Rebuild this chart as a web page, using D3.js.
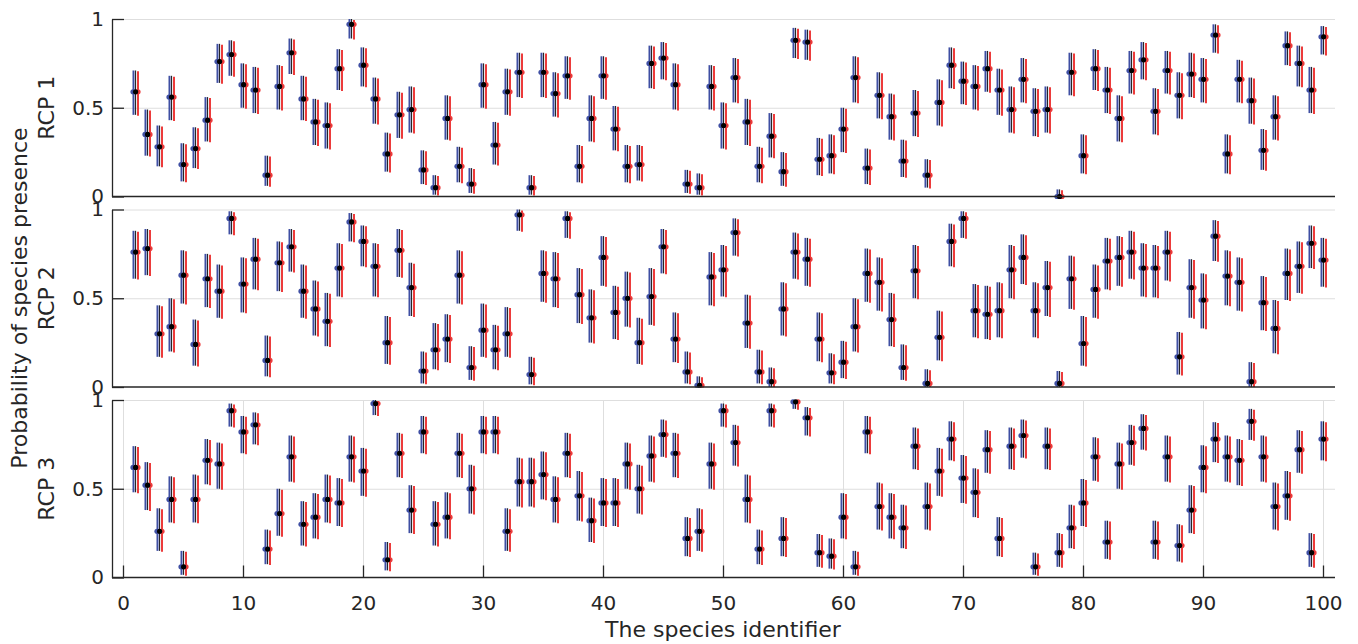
<!DOCTYPE html>
<html>
<head>
<meta charset="utf-8">
<title>Species presence per RCP</title>
<script src="https://d3js.org/d3.v7.min.js"></script>
<style>
  body { margin: 0; background: #fff; }
  svg text { font-family: "DejaVu Sans", sans-serif; fill: #262626; }
  .axis path, .axis line { stroke: #262626; }
  .grid line { stroke: #dedede; }
  .grid path { display: none; }
</style>
</head>
<body>
<svg id="chart" width="1358" height="644"></svg>
<script>
// species ids and panel names
var species = d3.range(1, 101);
var panelNames = ["RCP 1", "RCP 2", "RCP 3"];
var yTicks = [0, 0.5, 1];
var xTicks = [0, 10, 20, 30, 40, 50, 60, 70, 80, 90, 100];

// RCP 1: estimate, lower, upper
var rcp1 = [0.59,0.35,0.28,0.56,0.18,0.27,0.43,0.76,0.80,0.63,0.60,0.12,0.62,0.81,0.55,0.42,0.40,0.72,0.97,0.74,
  0.55,0.24,0.46,0.49,0.15,0.05,0.44,0.17,0.07,0.63,0.29,0.59,0.70,0.05,0.70,0.58,0.68,0.17,0.44,0.68,
  0.38,0.17,0.18,0.75,0.78,0.63,0.07,0.05,0.62,0.40,0.67,0.42,0.17,0.34,0.14,0.88,0.87,0.21,0.23,0.38,
  0.67,0.16,0.57,0.45,0.20,0.47,0.12,0.53,0.74,0.65,0.62,0.72,0.60,0.49,0.66,0.48,0.49,0.00,0.70,0.23,
  0.72,0.60,0.44,0.71,0.77,0.48,0.71,0.57,0.69,0.66,0.91,0.24,0.66,0.54,0.26,0.45,0.85,0.75,0.60,0.90];
var rcp1Lo = [0.46,0.23,0.17,0.43,0.085,0.16,0.31,0.64,0.68,0.50,0.47,0.06,0.49,0.69,0.43,0.29,0.27,0.60,0.89,0.62,
  0.41,0.14,0.33,0.36,0.07,0.01,0.32,0.08,0.02,0.50,0.18,0.46,0.56,0.01,0.56,0.45,0.55,0.08,0.31,0.55,
  0.26,0.08,0.09,0.61,0.66,0.49,0.02,0.01,0.49,0.27,0.53,0.29,0.08,0.22,0.06,0.78,0.77,0.12,0.13,0.25,
  0.53,0.07,0.44,0.32,0.11,0.34,0.05,0.40,0.61,0.52,0.49,0.59,0.46,0.36,0.53,0.34,0.36,0.00,0.57,0.13,
  0.60,0.47,0.31,0.58,0.66,0.35,0.58,0.44,0.56,0.53,0.81,0.13,0.53,0.41,0.15,0.32,0.74,0.62,0.47,0.80];
var rcp1Hi = [0.71,0.49,0.40,0.68,0.30,0.39,0.56,0.86,0.88,0.75,0.73,0.23,0.74,0.89,0.68,0.55,0.53,0.83,1.00,0.84,
  0.67,0.36,0.59,0.62,0.26,0.12,0.57,0.28,0.16,0.75,0.42,0.72,0.81,0.12,0.81,0.70,0.79,0.29,0.57,0.79,
  0.51,0.29,0.29,0.85,0.87,0.75,0.15,0.13,0.74,0.53,0.78,0.55,0.28,0.47,0.25,0.95,0.94,0.33,0.35,0.50,
  0.79,0.27,0.70,0.58,0.32,0.60,0.21,0.66,0.84,0.76,0.74,0.82,0.72,0.62,0.78,0.61,0.62,0.04,0.81,0.35,
  0.83,0.73,0.57,0.82,0.87,0.61,0.82,0.70,0.81,0.78,0.97,0.35,0.77,0.67,0.38,0.57,0.93,0.85,0.73,0.96];

// RCP 2
var rcp2 = [0.76,0.78,0.30,0.34,0.63,0.24,0.61,0.54,0.95,0.58,0.72,0.15,0.70,0.79,0.54,0.44,0.37,0.67,0.93,0.82,
  0.68,0.25,0.77,0.56,0.09,0.21,0.27,0.63,0.11,0.32,0.21,0.30,0.97,0.07,0.64,0.61,0.95,0.52,0.39,0.73,
  0.42,0.50,0.25,0.51,0.79,0.27,0.085,0.01,0.62,0.66,0.87,0.36,0.085,0.03,0.44,0.76,0.72,0.27,0.08,0.14,
  0.34,0.64,0.59,0.38,0.11,0.655,0.02,0.28,0.82,0.95,0.43,0.41,0.43,0.66,0.73,0.43,0.56,0.02,0.61,0.245,
  0.55,0.71,0.73,0.76,0.67,0.67,0.76,0.17,0.56,0.49,0.85,0.625,0.59,0.03,0.475,0.33,0.64,0.68,0.81,0.715];
var rcp2Lo = [0.61,0.63,0.17,0.20,0.47,0.12,0.45,0.39,0.86,0.42,0.55,0.06,0.54,0.65,0.39,0.29,0.23,0.51,0.82,0.68,
  0.51,0.13,0.62,0.40,0.02,0.10,0.14,0.47,0.04,0.17,0.10,0.17,0.88,0.015,0.48,0.45,0.84,0.36,0.25,0.57,
  0.27,0.34,0.13,0.35,0.64,0.14,0.02,0.00,0.46,0.51,0.74,0.22,0.02,0.00,0.29,0.61,0.57,0.145,0.02,0.05,
  0.20,0.48,0.43,0.23,0.04,0.50,0.00,0.15,0.68,0.84,0.28,0.27,0.28,0.50,0.58,0.28,0.40,0.00,0.44,0.12,
  0.39,0.55,0.57,0.61,0.51,0.505,0.60,0.07,0.39,0.33,0.71,0.46,0.43,0.00,0.32,0.19,0.49,0.53,0.67,0.565];
var rcp2Hi = [0.88,0.89,0.46,0.50,0.77,0.38,0.75,0.69,0.99,0.73,0.84,0.29,0.82,0.89,0.69,0.60,0.53,0.81,0.98,0.91,
  0.81,0.40,0.89,0.70,0.20,0.36,0.41,0.77,0.23,0.47,0.35,0.45,1.00,0.17,0.77,0.76,0.99,0.67,0.55,0.85,
  0.57,0.65,0.39,0.67,0.89,0.42,0.20,0.06,0.76,0.80,0.95,0.52,0.21,0.11,0.59,0.87,0.84,0.42,0.19,0.26,
  0.50,0.78,0.73,0.53,0.24,0.80,0.10,0.43,0.92,0.99,0.58,0.57,0.59,0.80,0.86,0.59,0.71,0.09,0.74,0.40,
  0.69,0.84,0.85,0.88,0.81,0.80,0.88,0.31,0.72,0.64,0.94,0.77,0.73,0.14,0.625,0.49,0.78,0.82,0.91,0.84];

// RCP 3
var rcp3 = [0.62,0.52,0.26,0.44,0.06,0.44,0.66,0.64,0.94,0.82,0.86,0.16,0.36,0.68,0.30,0.34,0.44,0.42,0.68,0.60,
  0.98,0.10,0.70,0.38,0.82,0.30,0.34,0.70,0.50,0.82,0.82,0.26,0.54,0.54,0.58,0.44,0.70,0.46,0.32,0.42,
  0.42,0.64,0.50,0.685,0.805,0.70,0.22,0.26,0.64,0.94,0.76,0.44,0.16,0.94,0.22,0.99,0.90,0.14,0.12,0.34,
  0.06,0.82,0.40,0.34,0.28,0.74,0.40,0.60,0.78,0.56,0.48,0.72,0.22,0.74,0.80,0.06,0.74,0.14,0.28,0.42,
  0.68,0.20,0.64,0.76,0.84,0.20,0.68,0.18,0.38,0.62,0.78,0.68,0.66,0.88,0.68,0.40,0.46,0.72,0.14,0.78];
var rcp3Lo = [0.48,0.38,0.15,0.31,0.015,0.31,0.525,0.50,0.85,0.70,0.75,0.075,0.235,0.54,0.18,0.22,0.31,0.29,0.54,0.46,
  0.915,0.04,0.565,0.25,0.70,0.18,0.22,0.565,0.36,0.70,0.70,0.15,0.40,0.40,0.44,0.31,0.565,0.32,0.20,0.29,
  0.29,0.50,0.36,0.54,0.68,0.565,0.12,0.15,0.50,0.85,0.63,0.31,0.075,0.85,0.12,0.95,0.80,0.06,0.05,0.22,
  0.015,0.70,0.27,0.22,0.165,0.61,0.27,0.46,0.66,0.42,0.34,0.59,0.12,0.61,0.675,0.015,0.61,0.06,0.165,0.29,
  0.545,0.105,0.50,0.635,0.72,0.105,0.54,0.09,0.25,0.48,0.65,0.54,0.52,0.775,0.54,0.27,0.325,0.59,0.06,0.66];
var rcp3Hi = [0.74,0.65,0.39,0.57,0.15,0.58,0.78,0.76,0.98,0.91,0.93,0.27,0.50,0.80,0.43,0.475,0.58,0.56,0.80,0.73,
  1.00,0.20,0.815,0.52,0.91,0.43,0.48,0.815,0.635,0.91,0.91,0.39,0.675,0.675,0.71,0.57,0.815,0.60,0.45,0.56,
  0.56,0.76,0.635,0.80,0.89,0.815,0.34,0.39,0.76,0.98,0.86,0.58,0.27,0.98,0.34,1.00,0.96,0.245,0.22,0.475,
  0.15,0.91,0.535,0.475,0.41,0.845,0.535,0.73,0.88,0.69,0.615,0.83,0.34,0.845,0.89,0.14,0.845,0.25,0.41,0.555,
  0.79,0.32,0.76,0.86,0.92,0.32,0.80,0.30,0.52,0.745,0.875,0.80,0.78,0.95,0.80,0.535,0.60,0.83,0.25,0.88];

var panels = [
  { name: panelNames[0], v: rcp1, lo: rcp1Lo, hi: rcp1Hi, top: 19 },
  { name: panelNames[1], v: rcp2, lo: rcp2Lo, hi: rcp2Hi, top: 209.5 },
  { name: panelNames[2], v: rcp3, lo: rcp3Lo, hi: rcp3Hi, top: 400 }
];

var svg = d3.select("#chart");
var left = 112, right = 1335, ph = 177.5;

var x = d3.scaleLinear().domain([-11 / 12, 101]).range([left, right]);

panels.forEach(function (p, pi) {
  var y = d3.scaleLinear().domain([0, 1]).range([p.top + ph, p.top]);
  var g = svg.append("g");

  // horizontal grid
  g.append("g").attr("class", "grid")
    .attr("transform", "translate(" + left + ",0)")
    .call(d3.axisLeft(y).tickValues([0.5, 1]).tickSize(-(right - left)).tickFormat(""));

  // vertical grid only on the bottom panel
  if (pi === 2) {
    g.append("g").attr("class", "grid")
      .attr("transform", "translate(0," + p.top + ")")
      .call(d3.axisBottom(x).tickValues(xTicks).tickSize(ph).tickFormat(""));
  }

  var rows = species.map(function (s, i) {
    return { s: s, v: p.v[i], lo: p.lo[i], hi: p.hi[i] };
  });

  // blue bars, red bars, black bars
  g.selectAll(".blue").data(rows).enter().append("line")
    .attr("x1", function (d) { return x(d.s) - 1.5; })
    .attr("x2", function (d) { return x(d.s) - 1.5; })
    .attr("y1", function (d) { return y(d.lo); })
    .attr("y2", function (d) { return y(d.hi); })
    .attr("stroke", "#3f4fa3").attr("stroke-width", 2);
  g.selectAll(".red").data(rows).enter().append("line")
    .attr("x1", function (d) { return x(d.s) + 3; })
    .attr("x2", function (d) { return x(d.s) + 3; })
    .attr("y1", function (d) { return y(Math.max(0, d.lo - 0.005)); })
    .attr("y2", function (d) { return y(d.hi - 0.005); })
    .attr("stroke", "#ec3b3b").attr("stroke-width", 2);
  g.selectAll(".black").data(rows).enter().append("line")
    .attr("x1", function (d) { return x(d.s) + 0.6; })
    .attr("x2", function (d) { return x(d.s) + 0.6; })
    .attr("y1", function (d) { return y(d.lo); })
    .attr("y2", function (d) { return y(d.hi); })
    .attr("stroke", "#111").attr("stroke-width", 1);

  // dots
  g.selectAll(".bdot").data(rows).enter().append("circle")
    .attr("cx", function (d) { return x(d.s) - 2; })
    .attr("cy", function (d) { return y(d.v); })
    .attr("r", 2.6).attr("fill", "#3f4fa3");
  g.selectAll(".rdot").data(rows).enter().append("circle")
    .attr("cx", function (d) { return x(d.s) + 3; })
    .attr("cy", function (d) { return y(d.v); })
    .attr("r", 2.6).attr("fill", "#ec3b3b");
  g.selectAll(".kdot").data(rows).enter().append("circle")
    .attr("cx", function (d) { return x(d.s) + 0.6; })
    .attr("cy", function (d) { return y(d.v); })
    .attr("r", 2.6).attr("fill", "#000");

  // left axis
  var ya = g.append("g").attr("class", "axis")
    .attr("transform", "translate(" + left + ",0)")
    .call(d3.axisLeft(y).tickValues(yTicks).tickSize(-12).tickSizeOuter(0).tickPadding(8)
      .tickFormat(function (d) { return d === 0.5 ? "0.5" : d3.format("d")(d); }));
  ya.selectAll("text").attr("font-size", 20);
  ya.selectAll("path, line").attr("stroke-width", 1.3);

  // bottom axis line
  var xa = g.append("g").attr("class", "axis")
    .attr("transform", "translate(0," + (p.top + ph) + ")")
    .call(d3.axisBottom(x).tickValues(pi === 2 ? xTicks : []).tickSize(-12).tickSizeOuter(0).tickPadding(18));
  xa.selectAll("text").attr("font-size", 20);
  xa.selectAll("path, line").attr("stroke-width", 1.3);
  xa.select("path").attr("d", "M" + left + ",0H" + right);

  // panel label
  svg.append("text")
    .attr("transform", "translate(54," + (p.top + ph / 2) + ") rotate(-90)")
    .attr("text-anchor", "middle")
    .attr("font-size", 22)
    .text(p.name);
});

svg.append("text")
  .attr("transform", "translate(27,298) rotate(-90)")
  .attr("text-anchor", "middle")
  .attr("font-size", 22)
  .text("Probability of species presence");

svg.append("text")
  .attr("x", 723).attr("y", 637)
  .attr("text-anchor", "middle")
  .attr("font-size", 22)
  .text("The species identifier");
</script>
</body>
</html>
